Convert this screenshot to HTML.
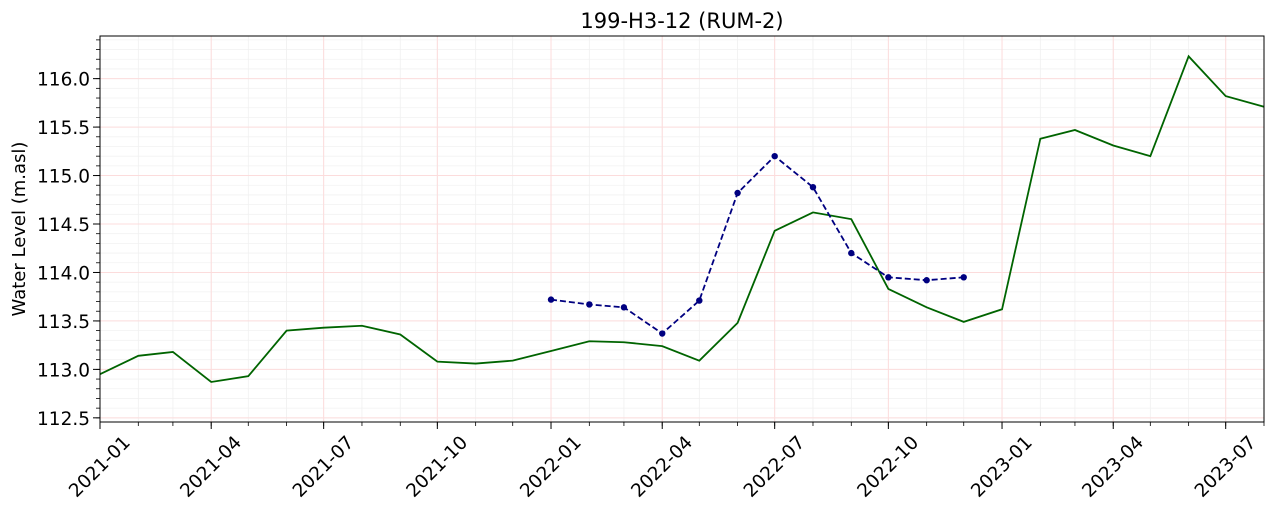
<!DOCTYPE html>
<html><head><meta charset="utf-8"><style>
html,body{margin:0;padding:0;background:#fff;}
svg{display:block;font-family:"DejaVu Sans","Liberation Sans",sans-serif;}
</style></head><body>
<svg id="chart" width="1272" height="512"></svg>
<script>
const greenDates=["2021-01","2021-02","2021-03","2021-04","2021-05","2021-06","2021-07","2021-08","2021-09","2021-10","2021-11","2021-12","2022-01","2022-02","2022-03","2022-04","2022-05","2022-06","2022-07","2022-08","2022-09","2022-10","2022-11","2022-12","2023-01","2023-02","2023-03","2023-04","2023-05","2023-06","2023-07","2023-08"];
const greenValues=[112.95,113.14,113.18,112.87,112.93,113.40,113.43,113.45,113.36,113.08,113.06,113.09,113.19,113.29,113.28,113.24,113.09,113.48,114.43,114.62,114.55,113.83,113.64,113.49,113.62,115.38,115.47,115.31,115.20,116.23,115.82,115.71];
const blueDates=["2022-01","2022-02","2022-03","2022-04","2022-05","2022-06","2022-07","2022-08","2022-09","2022-10","2022-11","2022-12"];
const blueValues=[113.72,113.67,113.64,113.37,113.71,114.82,115.20,114.88,114.20,113.95,113.92,113.95];
const yTicks=[112.5,113.0,113.5,114.0,114.5,115.0,115.5,116.0];
const xTickLabels=["2021-01","2021-04","2021-07","2021-10","2022-01","2022-04","2022-07","2022-10","2023-01","2023-04","2023-07"];

const L=100,R=1264,T=36,B=422;
const t0=Date.UTC(2021,0,1), t1=Date.UTC(2023,7,1);
const yMin=112.457,yMax=116.44;
function md(s){const [y,m]=s.split('-').map(Number);return Date.UTC(y,m-1,1);}
function xs(s){return L+(md(s)-t0)/(t1-t0)*(R-L);}
function xt(t){return L+(t-t0)/(t1-t0)*(R-L);}
function ys(v){return B-(v-yMin)/(yMax-yMin)*(B-T);}
const svg=document.getElementById('chart');
const NS='http://www.w3.org/2000/svg';
function el(tag,attrs,parent){const e=document.createElementNS(NS,tag);for(const k in attrs)e.setAttribute(k,attrs[k]);(parent||svg).appendChild(e);return e;}

const grid=el('g',{});


for(let i=0;i<=40;i++){const v=112.5+i*0.1;if(v>yMax)break;const y=ys(v);
 el('line',{x1:L,x2:R,y1:y,y2:y,stroke:'#f2f2f2','stroke-width':0.8},grid);
 el('line',{x1:L-4,x2:L,y1:y,y2:y,stroke:'#000','stroke-width':0.8},grid);}
for(let y=2021;y<=2023;y++)for(let m=0;m<12;m++){const t=Date.UTC(y,m,1);if(t>t1)break;const x=xt(t);
 el('line',{x1:x,x2:x,y1:T,y2:B,stroke:'#f0f0f0','stroke-width':0.8},grid);
 el('line',{x1:x,x2:x,y1:B,y2:B+4,stroke:'#000','stroke-width':0.8},grid);}
yTicks.forEach(v=>{const y=ys(v);el('line',{x1:L,x2:R,y1:y,y2:y,stroke:'#fcdcdc','stroke-width':1},grid);
 el('line',{x1:L-7,x2:L,y1:y,y2:y,stroke:'#000','stroke-width':1},grid);
 const tx=el('text',{x:L-10,y:y+7,'text-anchor':'end','font-size':18.5,fill:'#000'});
 tx.textContent=v.toFixed(1);
 
 });
xTickLabels.forEach(s=>{const x=xs(s);el('line',{x1:x,x2:x,y1:T,y2:B,stroke:'#fcdcdc','stroke-width':1},grid);
 el('line',{x1:x,x2:x,y1:B,y2:B+7,stroke:'#000','stroke-width':1},grid);
 const ax=x, ay=B+45;
 const tx=el('text',{x:ax,y:ay,'text-anchor':'middle','dominant-baseline':'central','font-size':18.5,fill:'#000',transform:`rotate(-45 ${ax} ${ay})`});
 tx.textContent=s;
 
 });

const gp=el('polyline',{points:greenDates.map((d,i)=>xs(d)+','+ys(greenValues[i])).join(' '),fill:'none',stroke:'#006400','stroke-width':1.8});


const bp=el('polyline',{points:blueDates.map((d,i)=>xs(d)+','+ys(blueValues[i])).join(' '),fill:'none',stroke:'#000080','stroke-width':1.8,'stroke-dasharray':'6,3'});


blueDates.forEach((d,i)=>{const c=el('circle',{cx:xs(d),cy:ys(blueValues[i]),r:3.2,fill:'#000080'});
 
 });

const frame=el('rect',{x:L,y:T,width:R-L,height:B-T,fill:'none',stroke:'#000','stroke-width':1});


const title=el('text',{x:(L+R)/2,y:28,'text-anchor':'middle','font-size':21,fill:'#000'});
title.textContent='199-H3-12 (RUM-2)';


const yl=el('text',{x:25,y:(T+B)/2,'text-anchor':'middle','font-size':18,fill:'#000',transform:`rotate(-90 25 ${(T+B)/2})`});
yl.textContent='Water Level (m.asl)';


</script>
</body></html>
